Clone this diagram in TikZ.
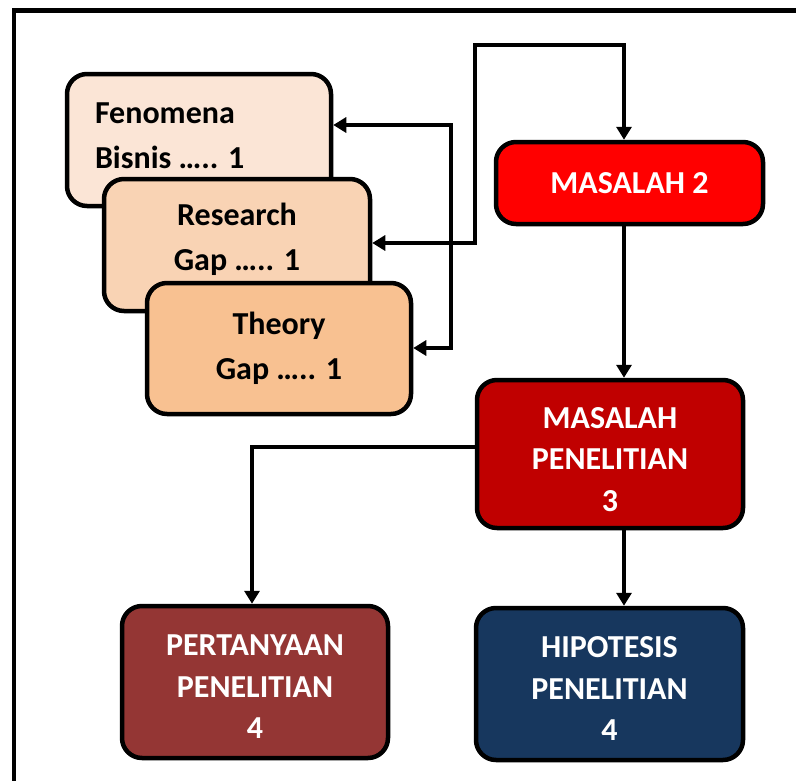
\documentclass[tikz,border=0pt]{standalone}
\usepackage{fontspec}
\setmainfont{Carlito}
\usetikzlibrary{arrows.meta}

\definecolor{peachA}{HTML}{FBE5D6}
\definecolor{peachB}{HTML}{F9D3B4}
\definecolor{peachC}{HTML}{F8C191}
\definecolor{redA}{HTML}{FF0000}
\definecolor{redB}{HTML}{C00000}
\definecolor{brownA}{HTML}{943634}
\definecolor{navyA}{HTML}{17375E}

% invisible struts that nudge a text block down (top) or up (bottom)
\newcommand\topstrut[1]{\rule{0pt}{#1}}
\newcommand\botstrut[1]{\rule[-#1]{0pt}{#1}}

\begin{document}
\begin{tikzpicture}[x=1pt,y=-1pt,
  box/.style={draw=black, line width=4.5pt, rounded corners=20pt, inner sep=0pt,
    font=\fontsize{32}{45}\selectfont\bfseries, align=center},
  peach/.style={box, minimum width=264pt, minimum height=132pt},
  dark/.style={box, text=white, minimum width=266pt,
    font=\fontsize{32}{41.5}\selectfont\bfseries},
  tip/.tip={Triangle[length=13pt,width=15pt]},
  conn/.style={line width=4pt, -tip},
  conn2/.style={line width=4pt, tip-tip},
]
\useasboundingbox (0,0) rectangle (796,780);
\clip (0,0) rectangle (796,780);

% outer frame (runs past the right and bottom edges)
\draw[line width=4.5pt] (14,10.5) rectangle (830,820);

% source boxes, stacked
\node[peach, fill=peachA, align=flush left, text width=208pt] (fen) at (199,140)
  {Fenomena\\Bisnis ….. 1\botstrut{8pt}};
\node[peach, fill=peachB, minimum width=266pt] (res) at (237,245)
  {Research\\Gap ….. 1\botstrut{17pt}};
\node[peach, fill=peachC, minimum height=131pt] (the) at (279,348.5)
  {Theory\\Gap ….. 1};

% problem chain
\node[dark, fill=redA, minimum width=267pt, minimum height=82pt] (m2) at (629.5,183) {MASALAH 2};
\node[dark, fill=redB, minimum height=148pt] (m3) at (610,454)
  {\topstrut{32pt}MASALAH\\PENELITIAN\\3};
\node[dark, fill=brownA, minimum height=152pt] (tanya) at (255,682)
  {\topstrut{30pt}PERTANYAAN\\PENELITIAN\\4};
\node[dark, fill=navyA, minimum width=267pt, minimum height=152pt] (hipo) at (609.5,684)
  {\topstrut{30pt}HIPOTESIS\\PENELITIAN\\4};

% connector bends
\coordinate (up) at (475,243);
\coordinate (topL) at (475,45);
\coordinate (topR) at (624,45);
\coordinate (vt) at (451,125);
\coordinate (vb) at (451,348);
\coordinate (lk) at (252,447);

\draw[conn2] (res.east |- up) -- (up) -- (topL) -- (topR) -- (topR |- m2.north);
\draw[conn2] (fen.east |- vt) -- (vt) -- (vb) -- (the.east |- vb);
\draw[conn] (topR |- m2.south) -- (topR |- m3.north);
\draw[conn] (topR |- m3.south) -- (topR |- hipo.north);
\draw[conn] (m3.west |- lk) -- (lk) -- (lk |- tanya.north);
\end{tikzpicture}
\end{document}
